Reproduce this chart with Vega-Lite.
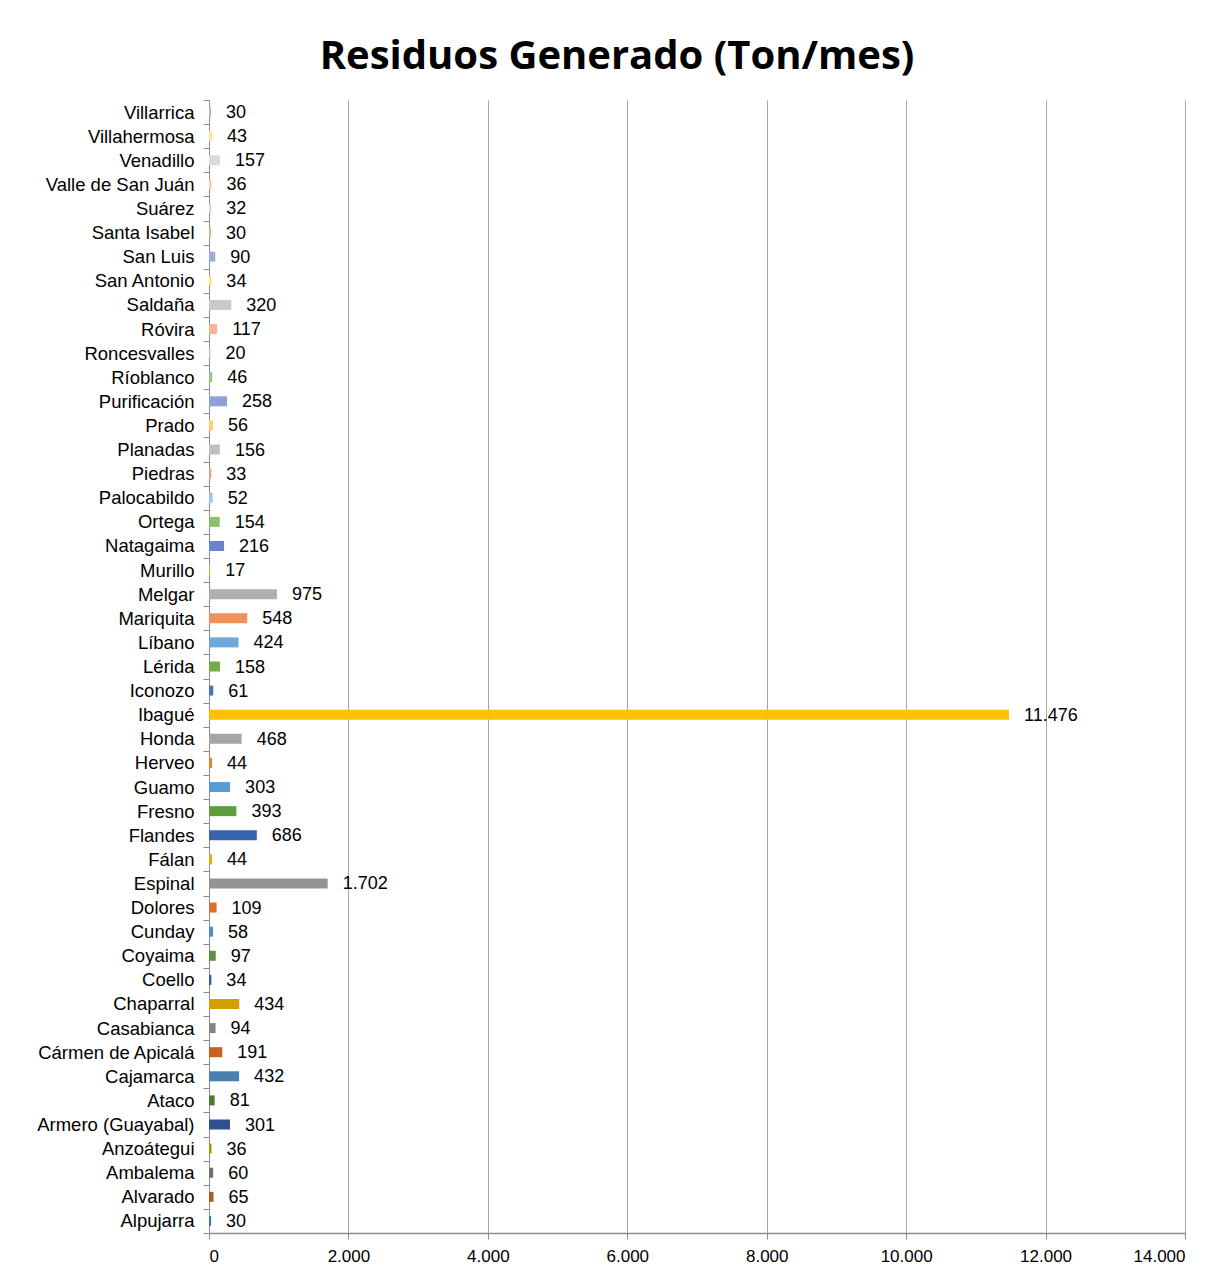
{
  "$schema": "https://vega.github.io/schema/vega-lite/v6.json",
  "width": 976,
  "height": 1133,
  "autosize": {"type": "none"},
  "padding": {"left": 209, "top": 100, "right": 43, "bottom": 54},
  "background": "white",
  "title": {
    "text": "Residuos Generado (Ton/mes)",
    "font": "Open Sans",
    "fontSize": 40,
    "fontWeight": "bold",
    "color": "#000000",
    "anchor": "middle",
    "dx": -80,
    "offset": 14
  },
  "config": {
    "locale": {"number": {"decimal": ",", "thousands": ".", "grouping": [3], "currency": ["$", ""]}},
    "view": {"stroke": null}
  },
  "data": {
    "values": [
      {"municipio": "Villarrica", "ton": 30},
      {"municipio": "Villahermosa", "ton": 43},
      {"municipio": "Venadillo", "ton": 157},
      {"municipio": "Valle de San Juán", "ton": 36},
      {"municipio": "Suárez", "ton": 32},
      {"municipio": "Santa Isabel", "ton": 30},
      {"municipio": "San Luis", "ton": 90},
      {"municipio": "San Antonio", "ton": 34},
      {"municipio": "Saldaña", "ton": 320},
      {"municipio": "Róvira", "ton": 117},
      {"municipio": "Roncesvalles", "ton": 20},
      {"municipio": "Ríoblanco", "ton": 46},
      {"municipio": "Purificación", "ton": 258},
      {"municipio": "Prado", "ton": 56},
      {"municipio": "Planadas", "ton": 156},
      {"municipio": "Piedras", "ton": 33},
      {"municipio": "Palocabildo", "ton": 52},
      {"municipio": "Ortega", "ton": 154},
      {"municipio": "Natagaima", "ton": 216},
      {"municipio": "Murillo", "ton": 17},
      {"municipio": "Melgar", "ton": 975},
      {"municipio": "Mariquita", "ton": 548},
      {"municipio": "Líbano", "ton": 424},
      {"municipio": "Lérida", "ton": 158},
      {"municipio": "Iconozo", "ton": 61},
      {"municipio": "Ibagué", "ton": 11476},
      {"municipio": "Honda", "ton": 468},
      {"municipio": "Herveo", "ton": 44},
      {"municipio": "Guamo", "ton": 303},
      {"municipio": "Fresno", "ton": 393},
      {"municipio": "Flandes", "ton": 686},
      {"municipio": "Fálan", "ton": 44},
      {"municipio": "Espinal", "ton": 1702},
      {"municipio": "Dolores", "ton": 109},
      {"municipio": "Cunday", "ton": 58},
      {"municipio": "Coyaima", "ton": 97},
      {"municipio": "Coello", "ton": 34},
      {"municipio": "Chaparral", "ton": 434},
      {"municipio": "Casabianca", "ton": 94},
      {"municipio": "Cármen de Apicalá", "ton": 191},
      {"municipio": "Cajamarca", "ton": 432},
      {"municipio": "Ataco", "ton": 81},
      {"municipio": "Armero (Guayabal)", "ton": 301},
      {"municipio": "Anzoátegui", "ton": 36},
      {"municipio": "Ambalema", "ton": 60},
      {"municipio": "Alvarado", "ton": 65},
      {"municipio": "Alpujarra", "ton": 30}
    ]
  },
  "encoding": {
    "y": {
      "field": "municipio",
      "type": "nominal",
      "sort": null,
      "scale": {"paddingInner": 0, "paddingOuter": 0},
      "axis": {
        "title": null,
        "labelFont": "Liberation Sans",
        "labelFontSize": 18.5,
        "labelColor": "#000000",
        "labelPadding": 9,
        "domainColor": "#8c8c8c",
        "tickColor": "#8c8c8c",
        "tickBand": "extent",
        "tickSize": 6,
        "grid": false
      }
    },
    "x": {
      "field": "ton",
      "type": "quantitative",
      "scale": {"domain": [0, 14000], "nice": false},
      "axis": {
        "title": null,
        "values": [0, 2000, 4000, 6000, 8000, 10000, 12000, 14000],
        "format": ",d",
        "labelFont": "Liberation Sans",
        "labelFontSize": 17,
        "labelColor": "#000000",
        "labelPadding": 9,
        "domainColor": "#8c8c8c",
        "domainWidth": 1.5,
        "tickColor": "#8c8c8c",
        "tickSize": 6,
        "grid": true,
        "gridColor": "#a6a6a6",
        "gridWidth": 1
      }
    }
  },
  "layer": [
    {
      "mark": {"type": "bar", "size": 10},
      "encoding": {
        "color": {
          "field": "municipio",
          "type": "nominal",
          "legend": null,
          "scale": {
            "domain": ["Villarrica", "Villahermosa", "Venadillo", "Valle de San Juán", "Suárez", "Santa Isabel", "San Luis", "San Antonio", "Saldaña", "Róvira", "Roncesvalles", "Ríoblanco", "Purificación", "Prado", "Planadas", "Piedras", "Palocabildo", "Ortega", "Natagaima", "Murillo", "Melgar", "Mariquita", "Líbano", "Lérida", "Iconozo", "Ibagué", "Honda", "Herveo", "Guamo", "Fresno", "Flandes", "Fálan", "Espinal", "Dolores", "Cunday", "Coyaima", "Coello", "Chaparral", "Casabianca", "Cármen de Apicalá", "Cajamarca", "Ataco", "Armero (Guayabal)", "Anzoátegui", "Ambalema", "Alvarado", "Alpujarra"],
            "range": ["#A9B5DE", "#FFE0A6", "#DBDBDB", "#F8CBB8", "#C9D8EE", "#A9CD90", "#9DAEDD", "#FFD98A", "#C9C9C9", "#F4B59A", "#A8C7EA", "#93C47D", "#8FA2D8", "#FFCC66", "#BFBFBF", "#F0A078", "#9DC3E6", "#8BC16B", "#6883CC", "#E0B040", "#B0B0B0", "#F0905A", "#6FA8DC", "#70AD47", "#4472C4", "#FFC000", "#A5A5A5", "#ED7D31", "#5B9BD5", "#5E9E3C", "#3A63AD", "#E6AE00", "#939393", "#D96F2B", "#4E8CC6", "#5A9140", "#33599E", "#D4A000", "#848484", "#C6621F", "#4A7FB3", "#4C7A33", "#2F5190", "#B38C00", "#707070", "#B05A20", "#3F74A8"]
          }
        }
      }
    },
    {
      "mark": {"type": "text", "align": "left", "baseline": "middle", "dx": 15, "dy": 1, "font": "Liberation Sans", "fontSize": 18, "color": "#000000"},
      "encoding": {
        "text": {"field": "ton", "type": "quantitative", "format": ",d"}
      }
    }
  ]
}
